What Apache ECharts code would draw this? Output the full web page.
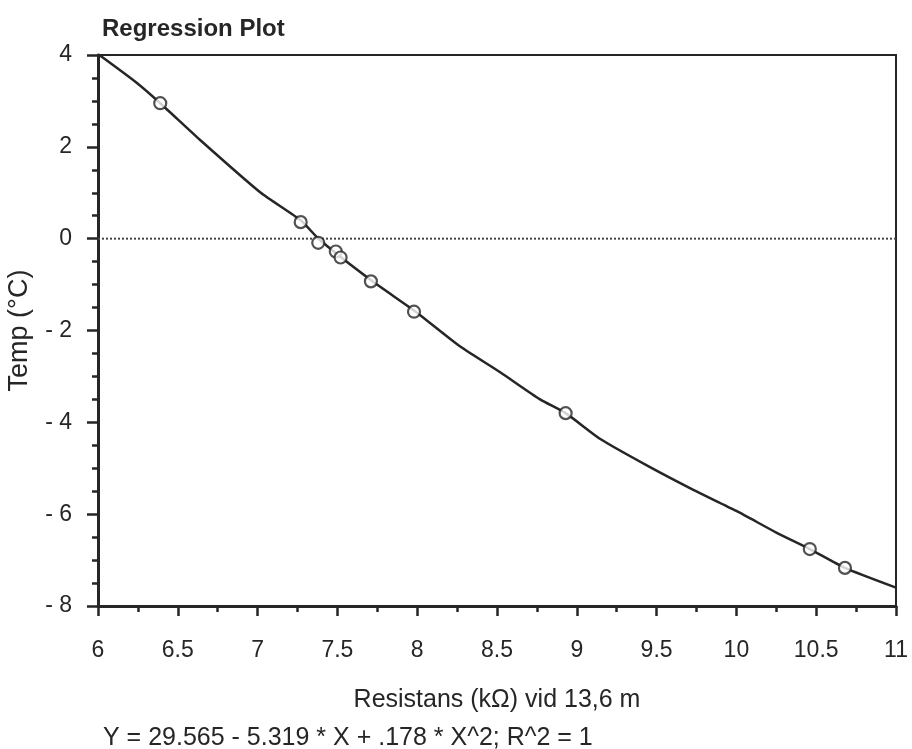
<!DOCTYPE html>
<html>
<head>
<meta charset="utf-8">
<script src="https://cdn.jsdelivr.net/npm/echarts@6/dist/echarts.min.js"></script>
<style>
  html, body { margin: 0; padding: 0; background: #fff; }
  #chart { width: 912px; height: 749px; }
</style>
</head>
<body>
<div id="chart"></div>
<script>
// measured points (resistance kΩ, temp °C)
const pointX = [6.39, 7.27, 7.38, 7.49, 7.52, 7.71, 7.98, 8.93, 10.46, 10.68];
const pointY = [2.95, 0.36, -0.09, -0.28, -0.41, -0.93, -1.59, -3.80, -6.76, -7.17];

// fitted curve
const curveX = [6.0, 6.24, 6.39, 6.64, 7.02, 7.27, 7.39, 7.72, 7.99, 8.27, 8.52, 8.77, 8.93, 9.15, 9.45, 9.73, 10.0, 10.25, 10.46, 10.68, 11.0];
const curveY = [4.02, 3.4, 2.95, 2.15, 1.0, 0.4, -0.03, -0.93, -1.59, -2.35, -2.91, -3.5, -3.8, -4.37, -4.96, -5.47, -5.93, -6.4, -6.76, -7.17, -7.6];

const zeroLineX = [6, 11];
const zeroLineY = [0, 0];

const ink = "#262626";
const font = "'Liberation Sans', Arial, sans-serif";

const chart = echarts.init(document.getElementById("chart"));

const option = {
  backgroundColor: "#fff",
  animation: false,
  title: [
    {
      text: "Regression Plot",
      left: 97,
      top: 12,
      textStyle: { fontFamily: font, fontSize: 24, fontWeight: "bold", color: ink },
    },
    {
      text: "Y = 29.565 - 5.319 * X + .178 * X^2; R^2 = 1",
      left: 98,
      top: 721,
      textStyle: { fontFamily: font, fontSize: 25, fontWeight: "normal", color: ink },
    },
  ],
  grid: {
    left: 98,
    right: 16,
    top: 55,
    bottom: 143,
    outerBoundsMode: "none",
    show: true,
    borderColor: ink,
    borderWidth: 2,
  },
  xAxis: {
    type: "value",
    min: 6,
    max: 11,
    interval: 0.5,
    name: "Resistans (kΩ) vid 13,6 m",
    nameLocation: "middle",
    nameGap: 82,
    nameTextStyle: { fontFamily: font, fontSize: 25, color: ink },
    axisLine: { onZero: false, lineStyle: { color: ink, width: 3 } },
    axisTick: { length: 10, lineStyle: { color: ink, width: 2.5 } },
    minorTick: { show: true, splitNumber: 2, length: 6, lineStyle: { color: ink, width: 2.5 } },
    axisLabel: {
      margin: 33,
      fontFamily: font,
      fontSize: 23,
      color: ink,
      formatter: (v) => String(v),
    },
    splitLine: { show: false },
  },
  yAxis: {
    type: "value",
    min: -8,
    max: 4,
    interval: 2,
    name: "Temp (°C)",
    nameLocation: "middle",
    nameGap: 65,
    nameTextStyle: { fontFamily: font, fontSize: 27, color: ink },
    axisLine: { onZero: false, lineStyle: { color: ink, width: 3 } },
    axisTick: { length: 11, lineStyle: { color: ink, width: 2.5 } },
    minorTick: { show: true, splitNumber: 4, length: 6, lineStyle: { color: ink, width: 2.5 } },
    axisLabel: {
      margin: 26,
      fontFamily: font,
      fontSize: 23,
      color: ink,
      formatter: (v) => (v < 0 ? "- " + Math.abs(v) : String(v)),
    },
    splitLine: { show: false },
  },
  series: [
    {
      type: "line",
      data: zeroLineX.map((x, i) => [x, zeroLineY[i]]),
      symbol: "none",
      lineStyle: { color: "#444", width: 2, type: [2, 2] },
      z: 1,
    },
    {
      type: "line",
      data: curveX.map((x, i) => [x, curveY[i]]),
      symbol: "none",
      smooth: 0.2,
      lineStyle: { color: ink, width: 2.5 },
      z: 2,
    },
    {
      type: "scatter",
      data: pointX.map((x, i) => [x, pointY[i]]),
      symbol: "circle",
      symbolSize: 12,
      itemStyle: { color: "#fff", borderColor: ink, borderWidth: 2.2 },
      z: 3,
    },
  ],
};

chart.setOption(option);
</script>
</body>
</html>
